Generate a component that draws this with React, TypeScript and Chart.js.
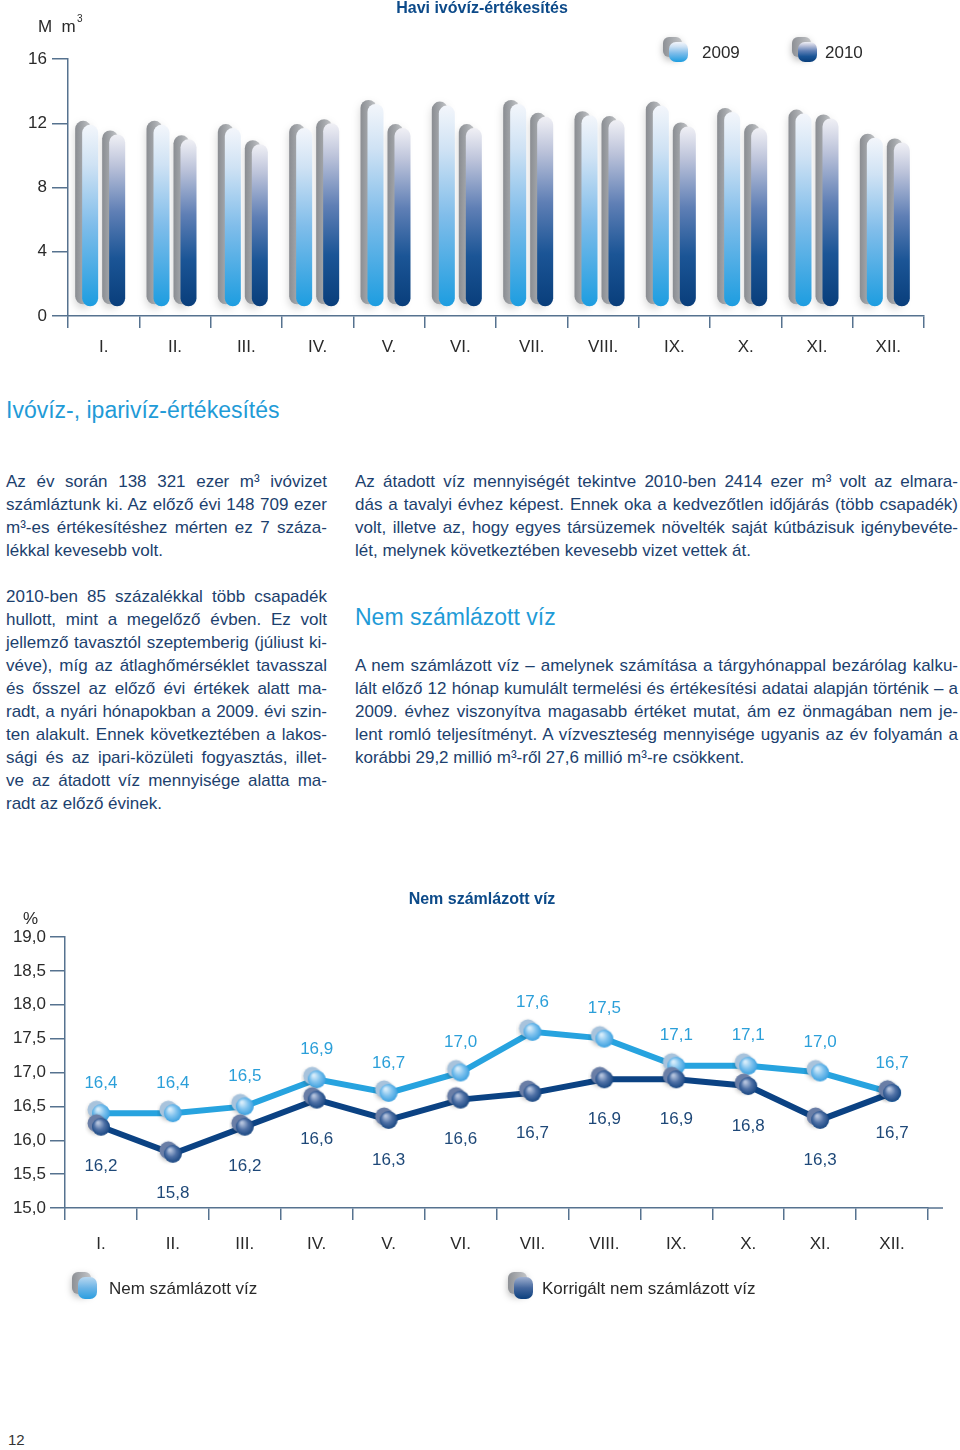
import React, { useEffect, useRef } from 'react';
import { Chart, registerables } from 'chart.js';
Chart.register(...registerables);

// ---------- DATA ----------
const months = ['I.', 'II.', 'III.', 'IV.', 'V.', 'VI.', 'VII.', 'VIII.', 'IX.', 'X.', 'XI.', 'XII.'];
const sales2009 = [11.9, 11.9, 11.7, 11.7, 13.2, 13.1, 13.2, 12.5, 13.1, 12.7, 12.6, 11.1];
const sales2010 = [11.3, 11.0, 10.7, 12.0, 11.7, 11.7, 12.4, 12.2, 11.8, 11.7, 12.3, 10.8];
const salesTicks = [0, 4, 8, 12, 16];
const nonBilled = [16.4, 16.4, 16.5, 16.9, 16.7, 17.0, 17.6, 17.5, 17.1, 17.1, 17.0, 16.7];
const correctedNonBilled = [16.2, 15.8, 16.2, 16.6, 16.3, 16.6, 16.7, 16.9, 16.9, 16.8, 16.3, 16.7];
const pctTicks = [15, 15.5, 16, 16.5, 17, 17.5, 18, 18.5, 19];

const leftP1 = [
  'Az év során 138 321 ezer m³ ivóvizet',
  'számláztunk ki. Az előző évi 148 709 ezer',
  'm³-es értékesítéshez mérten ez 7 száza-',
  'lékkal kevesebb volt.',
];
const leftP2 = [
  '2010-ben 85 százalékkal több csapadék',
  'hullott, mint a megelőző évben. Ez volt',
  'jellemző tavasztól szeptemberig (júliust ki-',
  'véve), míg az átlaghőmérséklet tavasszal',
  'és ősszel az előző évi értékek alatt ma-',
  'radt, a nyári hónapokban a 2009. évi szin-',
  'ten alakult. Ennek következtében a lakos-',
  'sági és az ipari-közületi fogyasztás, illet-',
  've az átadott víz mennyisége alatta ma-',
  'radt az előző évinek.',
];
const rightP1 = [
  'Az átadott víz mennyiségét tekintve 2010-ben 2414 ezer m³ volt az elmara-',
  'dás a tavalyi évhez képest. Ennek oka a kedvezőtlen időjárás (több csapadék)',
  'volt, illetve az, hogy egyes társüzemek növelték saját kútbázisuk igénybevéte-',
  'lét, melynek következtében kevesebb vizet vettek át.',
];
const rightP2 = [
  'A nem számlázott víz – amelynek számítása a tárgyhónappal bezárólag kalku-',
  'lált előző 12 hónap kumulált termelési és értékesítési adatai alapján történik – a',
  '2009. évhez viszonyítva magasabb értéket mutat, ám ez önmagában nem je-',
  'lent romló teljesítményt. A vízveszteség mennyisége ugyanis az év folyamán a',
  'korábbi 29,2 millió m³-ről 27,6 millió m³-re csökkent.',
];

// ---------- STYLE ----------
const FONT = '"Liberation Sans", Arial, Helvetica, sans-serif';
const axisColor = '#56728f';
const tickText = '#2a2a2a';
const titleColor = '#0c4a89';
const bodyColor = '#1c3f6e';
const headColor = '#1f9bd7';
const lightLine = '#27a3df';
const darkLine = '#0b4283';

const stops2009: [number, string][] = [[0, '#f3f6fb'], [0.22, '#cfe2f4'], [0.55, '#80bdea'], [1, '#1d9de0']];
const stops2010: [number, string][] = [[0, '#f0f0f5'], [0.18, '#bcc3da'], [0.45, '#5f7fb5'], [0.72, '#1b5596'], [1, '#093e7b']];

function roundRect(ctx: CanvasRenderingContext2D, x: number, y: number, w: number, h: number, r: number) {
  ctx.beginPath();
  (ctx as any).roundRect(x, y, w, h, r);
}

function drawCube(ctx: CanvasRenderingContext2D, x: number, y: number, w: number, h: number, stops: [number, string][]) {
  ctx.save();
  ctx.shadowColor = 'rgba(0,0,0,0.28)';
  ctx.shadowBlur = 7;
  ctx.shadowOffsetY = 3;
  const gg = ctx.createLinearGradient(x - 6, 0, x - 6 + w, 0);
  gg.addColorStop(0, '#8d9095');
  gg.addColorStop(1, '#c3c5c8');
  ctx.fillStyle = gg;
  roundRect(ctx, x - 6, y - 5, w, h, 6);
  ctx.fill();
  ctx.restore();
  ctx.save();
  const g = ctx.createLinearGradient(0, y, 0, y + h);
  stops.forEach(([o, c]) => g.addColorStop(o, c));
  ctx.fillStyle = g;
  roundRect(ctx, x, y, w, h, 7);
  ctx.fill();
  ctx.restore();
}

function makeSphere(back: string, stops: [number, string][]) {
  const c = document.createElement('canvas');
  c.width = 32;
  c.height = 32;
  const g = c.getContext('2d')!;
  g.save();
  g.shadowColor = 'rgba(0,0,0,0.25)';
  g.shadowBlur = 4;
  g.shadowOffsetY = 2;
  g.beginPath();
  g.arc(11.5, 12.5, 9, 0, Math.PI * 2);
  g.fillStyle = back;
  g.fill();
  g.restore();
  const rg = g.createRadialGradient(13, 12, 1, 16, 16, 10.5);
  stops.forEach(([o, col]) => rg.addColorStop(o, col));
  g.beginPath();
  g.arc(16, 16, 9, 0, Math.PI * 2);
  g.fillStyle = rg;
  g.fill();
  return c;
}

const barGradient = (stops: [number, string][]) => (c: any) => {
  const chart = c.chart;
  const fallback = stops[stops.length - 1][1];
  if (!chart.chartArea || c.type !== 'data') return fallback;
  const ys = chart.scales.y;
  const top = ys.getPixelForValue(c.raw);
  const bot = ys.getPixelForValue(0.6);
  if (!isFinite(top) || !isFinite(bot) || top === bot) return fallback;
  const g = chart.ctx.createLinearGradient(0, top, 0, bot);
  stops.forEach(([o, col]) => g.addColorStop(o, col));
  return g;
};

const barSidePlugin = {
  id: 'barSide',
  beforeDatasetsDraw(chart: any) {
    const ctx: CanvasRenderingContext2D = chart.ctx;
    chart.data.datasets.forEach((_ds: any, di: number) => {
      const meta = chart.getDatasetMeta(di);
      meta.data.forEach((bar: any) => {
        const { x, y, base, width } = bar.getProps(['x', 'y', 'base', 'width'], true);
        const l = x - width / 2 - 7;
        const t = y - 4;
        const b = base - 2;
        ctx.save();
        ctx.shadowColor = 'rgba(0,0,0,0.18)';
        ctx.shadowBlur = 8;
        ctx.shadowOffsetY = 4;
        const g = ctx.createLinearGradient(l, 0, l + width, 0);
        g.addColorStop(0, '#8a8d92');
        g.addColorStop(0.5, '#a4a7ab');
        g.addColorStop(1, '#c6c8cb');
        ctx.fillStyle = g;
        roundRect(ctx, l, t, width, b - t, 8);
        ctx.fill();
        ctx.restore();
      });
    });
  },
};

const topOverlay = {
  id: 'topOverlay',
  afterDraw(chart: any) {
    const ctx: CanvasRenderingContext2D = chart.ctx;
    ctx.save();
    ctx.textBaseline = 'middle';
    ctx.fillStyle = titleColor;
    ctx.font = `bold 16px ${FONT}`;
    ctx.textAlign = 'center';
    ctx.fillText('Havi ivóvíz-értékesítés', 482, 9);
    ctx.textAlign = 'left';
    ctx.fillStyle = tickText;
    ctx.font = `17px ${FONT}`;
    ctx.fillText('M  m', 38, 27);
    ctx.font = `10px ${FONT}`;
    ctx.fillText('3', 77, 19);
    drawCube(ctx, 669, 42, 19, 20, stops2009);
    drawCube(ctx, 798, 42, 19, 20, stops2010);
    ctx.fillStyle = tickText;
    ctx.font = `17px ${FONT}`;
    ctx.fillText('2009', 702, 53);
    ctx.fillText('2010', 825, 53);
    ctx.restore();
  },
};

const valueLabels = {
  id: 'valueLabels',
  afterDatasetsDraw(chart: any) {
    const ctx: CanvasRenderingContext2D = chart.ctx;
    ctx.save();
    ctx.font = `17px ${FONT}`;
    ctx.textAlign = 'center';
    ctx.textBaseline = 'middle';
    chart.data.datasets.forEach((ds: any, di: number) => {
      const meta = chart.getDatasetMeta(di);
      meta.data.forEach((pt: any, i: number) => {
        const txt = Number(ds.data[i]).toFixed(1).replace('.', ',');
        ctx.fillStyle = di === 0 ? '#2b9fd9' : '#1e4878';
        ctx.fillText(txt, pt.x, di === 0 ? pt.y - 30 : pt.y + 40);
      });
    });
    ctx.restore();
  },
};

const bottomOverlay = {
  id: 'bottomOverlay',
  afterDraw(chart: any) {
    const ctx: CanvasRenderingContext2D = chart.ctx;
    const a = chart.chartArea;
    ctx.save();
    ctx.strokeStyle = axisColor;
    ctx.lineWidth = 1.5;
    ctx.beginPath();
    ctx.moveTo(a.right, a.bottom);
    ctx.lineTo(a.right + 15, a.bottom);
    ctx.stroke();
    ctx.textBaseline = 'middle';
    ctx.fillStyle = titleColor;
    ctx.font = `bold 16px ${FONT}`;
    ctx.textAlign = 'center';
    ctx.fillText('Nem számlázott víz', 482, 20);
    ctx.textAlign = 'left';
    ctx.fillStyle = tickText;
    ctx.font = `17px ${FONT}`;
    ctx.fillText('%', 23, 39);
    drawCube(ctx, 78, 397, 19, 22, [[0, '#b9d8f0'], [0.5, '#6cb4e6'], [1, '#2a9ee0']]);
    drawCube(ctx, 514, 397, 19, 22, [[0, '#9fb0cf'], [0.5, '#44679e'], [1, '#0b3f7d']]);
    ctx.fillStyle = tickText;
    ctx.font = `17px ${FONT}`;
    ctx.fillText('Nem számlázott víz', 109, 409);
    ctx.fillText('Korrigált nem számlázott víz', 542, 409);
    ctx.restore();
  },
};

function BarChart() {
  const ref = useRef<HTMLCanvasElement>(null);
  useEffect(() => {
    const chart = new Chart(ref.current!, {
      type: 'bar',
      data: {
        labels: months,
        datasets: [
          {
            label: '2009',
            data: sales2009,
            base: 0.6,
            backgroundColor: barGradient(stops2009),
            borderRadius: 8,
            borderSkipped: false,
            categoryPercentage: 0.757,
            barPercentage: 0.593,
          } as any,
          {
            label: '2010',
            data: sales2010,
            base: 0.6,
            backgroundColor: barGradient(stops2010),
            borderRadius: 8,
            borderSkipped: false,
            categoryPercentage: 0.757,
            barPercentage: 0.593,
          } as any,
        ],
      },
      options: {
        responsive: false,
        animation: false,
        layout: { padding: { left: 0, right: 36, top: 59, bottom: 5 } },
        plugins: { legend: { display: false }, tooltip: { enabled: false }, title: { display: false } },
        scales: {
          x: {
            grid: { offset: true, drawOnChartArea: false, drawTicks: true, tickLength: 12, color: axisColor, lineWidth: 1.5 },
            border: { display: true, color: axisColor, width: 1.5 },
            ticks: { color: tickText, font: { size: 17, family: FONT }, padding: 9 },
            afterFit: (s: any) => { s.height = 54; },
          },
          y: {
            min: 0,
            max: 16,
            afterBuildTicks: (s: any) => { s.ticks = salesTicks.map((v) => ({ value: v })); },
            grid: { drawOnChartArea: false, drawTicks: true, tickLength: 16, color: axisColor, lineWidth: 1.5 },
            border: { display: true, color: axisColor, width: 1.5 },
            ticks: { color: tickText, font: { size: 17, family: FONT }, padding: 5 },
            afterFit: (s: any) => { s.width = 68; },
          },
        },
      } as any,
      plugins: [barSidePlugin, topOverlay],
    });
    return () => chart.destroy();
  }, []);
  return <canvas ref={ref} width={960} height={375} style={{ position: 'absolute', left: 0, top: 0 }} />;
}

function LineChart() {
  const ref = useRef<HTMLCanvasElement>(null);
  useEffect(() => {
    const lightPt = makeSphere('#a8c3dc', [[0, '#d6ecfa'], [0.45, '#7fc2ee'], [1, '#2a98dc']]);
    const darkPt = makeSphere('#6a7ea6', [[0, '#b3c2dc'], [0.45, '#4f71a6'], [1, '#0a3b78']]);
    const chart = new Chart(ref.current!, {
      type: 'line',
      data: {
        labels: months,
        datasets: [
          {
            label: 'Nem számlázott víz',
            data: nonBilled,
            borderColor: lightLine,
            borderWidth: 6,
            pointStyle: lightPt as any,
            pointRadius: 10,
            tension: 0,
            order: 1,
          },
          {
            label: 'Korrigált nem számlázott víz',
            data: correctedNonBilled,
            borderColor: darkLine,
            borderWidth: 6,
            pointStyle: darkPt as any,
            pointRadius: 10,
            tension: 0,
            order: 0,
          },
        ],
      },
      options: {
        responsive: false,
        animation: false,
        layout: { padding: { left: 0, right: 32, top: 57, bottom: 42 } },
        plugins: { legend: { display: false }, tooltip: { enabled: false }, title: { display: false } },
        scales: {
          x: {
            offset: true,
            grid: { offset: true, drawOnChartArea: false, drawTicks: true, tickLength: 12, color: axisColor, lineWidth: 1.5 },
            border: { display: true, color: axisColor, width: 1.5 },
            ticks: { color: tickText, font: { size: 17, family: FONT }, padding: 14 },
            afterFit: (s: any) => { s.height = 60; },
          },
          y: {
            min: 15,
            max: 19,
            afterBuildTicks: (s: any) => { s.ticks = pctTicks.map((v) => ({ value: v })); },
            grid: { drawOnChartArea: false, drawTicks: true, tickLength: 15, color: axisColor, lineWidth: 1.5 },
            border: { display: true, color: axisColor, width: 1.5 },
            ticks: {
              color: tickText,
              font: { size: 17, family: FONT },
              padding: 4,
              callback: (v: any) => Number(v).toFixed(1).replace('.', ','),
            },
            afterFit: (s: any) => { s.width = 65; },
          },
        },
      } as any,
      plugins: [valueLabels, bottomOverlay],
    });
    return () => chart.destroy();
  }, []);
  return <canvas ref={ref} width={960} height={430} style={{ position: 'absolute', left: 0, top: 880 }} />;
}

function Para({ lines, top, left, width }: { lines: string[]; top: number; left: number; width: number }) {
  return (
    <div style={{ position: 'absolute', top, left, width, fontSize: 17, color: bodyColor }}>
      {lines.map((l, i) => (
        <div
          key={i}
          style={{
            height: 23,
            lineHeight: '23px',
            textAlign: 'justify',
            textAlignLast: i === lines.length - 1 ? 'left' : 'justify',
          } as any}
        >
          {l}
        </div>
      ))}
    </div>
  );
}

export default function App() {
  useEffect(() => {
    Chart.defaults.font.family = FONT;
  }, []);
  return (
    <div
      style={{
        position: 'absolute',
        left: 0,
        top: 0,
        width: 960,
        height: 1450,
        overflow: 'hidden',
        background: '#fff',
        fontFamily: FONT,
      }}
    >
      <BarChart />
      <div style={{ position: 'absolute', left: 6, top: 395, fontSize: 23, lineHeight: '30px', color: headColor }}>
        Ivóvíz-, iparivíz-értékesítés
      </div>
      <Para lines={leftP1} top={470} left={6} width={321} />
      <Para lines={leftP2} top={585} left={6} width={321} />
      <Para lines={rightP1} top={470} left={355} width={603} />
      <div style={{ position: 'absolute', left: 355, top: 602, fontSize: 23, lineHeight: '30px', color: headColor }}>
        Nem számlázott víz
      </div>
      <Para lines={rightP2} top={654} left={355} width={603} />
      <LineChart />
      <div style={{ position: 'absolute', left: 8, top: 1431, fontSize: 15, lineHeight: '18px', color: '#333' }}>12</div>
    </div>
  );
}
